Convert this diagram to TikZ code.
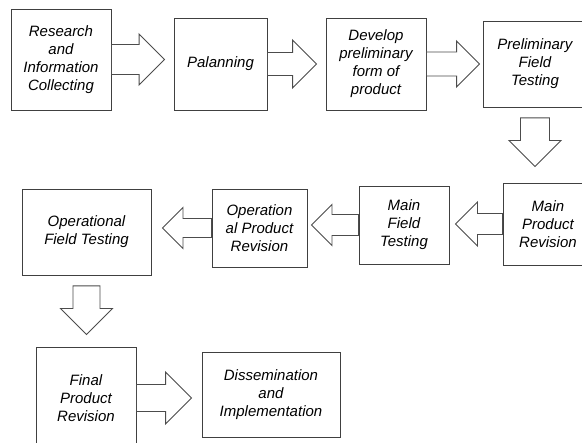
\documentclass[tikz,border=0pt]{standalone}
\usepackage{fontspec}
\setmainfont{Liberation Sans}
\usetikzlibrary{calc}

\begin{document}
\begin{tikzpicture}[
    x=1pt, y=-1pt,
    stage/.style={rectangle, draw=black!75, line width=0.9pt, fill=white, inner sep=0pt, align=center, font=\fontsize{15}{18}\selectfont\itshape},
    fat/.style n args={4}{draw=black!70, line width=0.9pt, fill=white, line join=miter, to path={
        let \p1=($(\tikztostart)!#3!(\tikztotarget)$), \p2=($(\tikztotarget)!#4!(\tikztostart)$),
            \n1={atan2(\y2-\y1,\x2-\x1)}, \n2={veclen(\x2-\x1,\y2-\y1)} in
        (\p1) ++(\n1+90:#1) -- ++(\n1:{\n2-#2}) -- ++(\n1+90:{#2-#1}) -- ++(\n1-45:{#2*sqrt(2)})
        -- ++(\n1-135:{#2*sqrt(2)}) -- ++(\n1+90:{#2-#1}) -- ++(\n1+180:{\n2-#2}) -- cycle}}
]
    \clip (0,0) rectangle (582,443);
    \fill[white] (0,0) rectangle (582,443);

    % Nodes
    \node[stage, minimum width=100pt, minimum height=101pt] (rsch) at (61,59.5) {Research\\and\\Information\\Collecting};
    \node[stage, minimum width=93pt, minimum height=92pt] (plan) at (220.5,64) {Palanning};
    \node[stage, minimum width=100pt, minimum height=92pt] (devl) at (376,64) {Develop\\preliminary\\form of\\product};
    \node[stage, minimum width=104pt, minimum height=86pt] (prel) at (535,64) {Preliminary\\Field\\Testing};
    \node[stage, minimum width=90pt, minimum height=82pt] (mprv) at (548,224) {Main\\Product\\Revision};
    \node[stage, minimum width=90pt, minimum height=78pt] (mfld) at (404,225) {Main\\Field\\Testing};
    \node[stage, minimum width=95pt, minimum height=78pt] (oprv) at (259.5,228) {Operation\\al Product\\Revision};
    \node[stage, minimum width=129pt, minimum height=86pt] (opfl) at (86.5,232) {Operational\\Field Testing};
    \node[stage, minimum width=100pt, minimum height=102pt] (finl) at (86,398) {Final\\Product\\Revision};
    \node[stage, minimum width=138pt, minimum height=85pt] (dsmn) at (271,394.5) {Dissemination\\and\\Implementation};

    % Arrows
    \draw[fat={15pt}{25.5pt}{0pt}{9pt}] (rsch.east) to (rsch.east -| plan.west);
    \draw[fat={11.5pt}{24pt}{0pt}{9pt}] (plan.east) to (plan.east -| devl.west);
    \draw[fat={12pt}{23pt}{0pt}{3pt}] (devl.east) to (devl.east -| prel.west);
    \draw[fat={14.5pt}{26pt}{10.5pt}{16pt}] (prel.south) to (prel.south |- mprv.north);
    \draw[fat={10.5pt}{22pt}{0pt}{6pt}] (mprv.west) to (mprv.west -| mfld.east);
    \draw[fat={10.5pt}{20.5pt}{0pt}{4pt}] (mfld.west) to (mfld.west -| oprv.east);
    \draw[fat={9.5pt}{20.5pt}{0pt}{11pt}] (oprv.west) to (oprv.west -| opfl.east);
    \draw[fat={13.5pt}{26pt}{10.5pt}{12pt}] (opfl.south) to (opfl.south |- finl.north);
    \draw[fat={13.5pt}{26pt}{0pt}{10pt}] (finl.east) to (finl.east -| dsmn.west);
\end{tikzpicture}
\end{document}
